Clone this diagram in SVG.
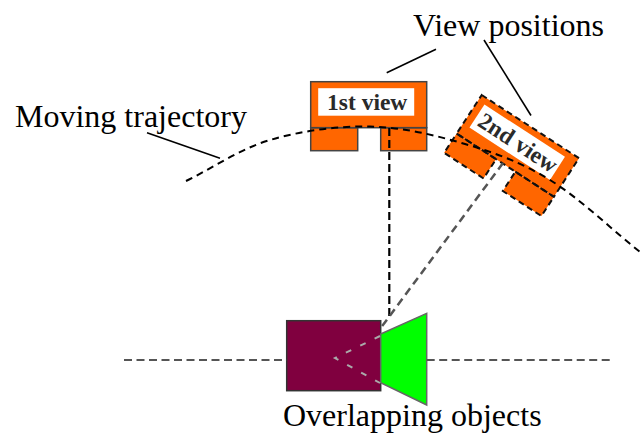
<svg xmlns="http://www.w3.org/2000/svg" width="641" height="434" viewBox="0 0 641 434">
  <style>
    .label { font-family: "Liberation Serif", "Times New Roman", serif; font-size: 32px; fill: #000; }
    .tag { font-family: "Liberation Serif", "Times New Roman", serif; font-size: 23.5px; font-weight: bold; fill: #2a2a2a; text-anchor: middle; }
    .leader { stroke: #000; stroke-width: 1.6; fill: none; }
    .body { fill: #FF6600; }
    .solid { stroke: #444; stroke-width: 1.5; }
    .dashed { stroke: #111; stroke-width: 2; stroke-dasharray: 6 4; }
    .card { fill: #fff; }
  </style>
  <defs>
    <!-- camera-like view marker: body with label window and two legs -->
    <g id="viewShape">
      <rect class="body" x="0" y="0" width="116" height="46"/>
      <rect class="body" x="0" y="46" width="47" height="23"/>
      <rect class="body" x="70" y="46" width="46" height="23"/>
      <rect class="card" x="7.5" y="6.5" width="96" height="27.5"/>
    </g>
  </defs>
  <rect width="641" height="434" fill="#fff"/>

  <!-- first view -->
  <g id="view1" transform="translate(310.7,81.7)">
    <use href="#viewShape"/>
    <g class="solid" fill="none">
      <rect x="0" y="0" width="116" height="46"/>
      <rect x="0" y="46" width="47" height="23"/>
      <rect x="70" y="46" width="46" height="23"/>
    </g>
    <text class="tag" x="56.5" y="28">1st view</text>
  </g>

  <!-- second view -->
  <g id="view2" transform="translate(481.7,95) rotate(33)">
    <use href="#viewShape"/>
    <g class="dashed" fill="none">
      <rect x="0" y="0" width="116" height="46"/>
      <rect x="0" y="46" width="47" height="23"/>
      <rect x="70" y="46" width="46" height="23"/>
    </g>
    <text class="tag" x="56.5" y="28">2nd view</text>
  </g>

  <!-- overlapping objects -->
  <g id="objects">
    <rect x="286.7" y="320.7" width="94" height="70" fill="#80003F" stroke="#333" stroke-width="1.5"/>
    <polygon points="380.7,334 426.7,313.3 426.7,405 380.7,382.7" fill="#00FF00" stroke="#666" stroke-width="1.5"/>
    <polyline points="380,336 335,358 380,383" fill="none" stroke="#aaa" stroke-width="2" stroke-dasharray="6 10"/>
  </g>

  <!-- connectors -->
  <g id="connectors" fill="none">
    <!-- moving trajectory -->
    <path d="M186,181 C214,167.3 239.3,149.1 270,140 C300.7,130.9 337.5,125.8 370,126.5 C402.5,127.2 435,135.1 465,144 C495,152.9 520.8,162 550,180 C579.2,198 610,228 640,252" stroke="#000" stroke-width="2" stroke-dasharray="7 5"/>
    <!-- sight lines -->
    <line x1="389.3" y1="128" x2="389.3" y2="318" stroke="#000" stroke-width="2.2" stroke-dasharray="8 4"/>
    <line x1="503" y1="163" x2="381.5" y2="327" stroke="#555" stroke-width="2.5" stroke-dasharray="8 5"/>
    <!-- ground line -->
    <line x1="124" y1="360" x2="286.7" y2="360" stroke="#555" stroke-width="2" stroke-dasharray="8 4.5"/>
    <line x1="426.7" y1="360" x2="610" y2="360" stroke="#555" stroke-width="2" stroke-dasharray="8 4.5"/>
    <!-- label leaders -->
    <line class="leader" x1="147" y1="132.7" x2="220" y2="158.3"/>
    <line class="leader" x1="436" y1="49.3" x2="386.7" y2="72.7"/>
    <line class="leader" x1="484" y1="40" x2="531" y2="115.5"/>
  </g>

  <!-- labels -->
  <text class="label" x="15" y="127">Moving trajectory</text>
  <text class="label" x="413" y="36">View positions</text>
  <text class="label" x="283" y="426">Overlapping objects</text>
</svg>
